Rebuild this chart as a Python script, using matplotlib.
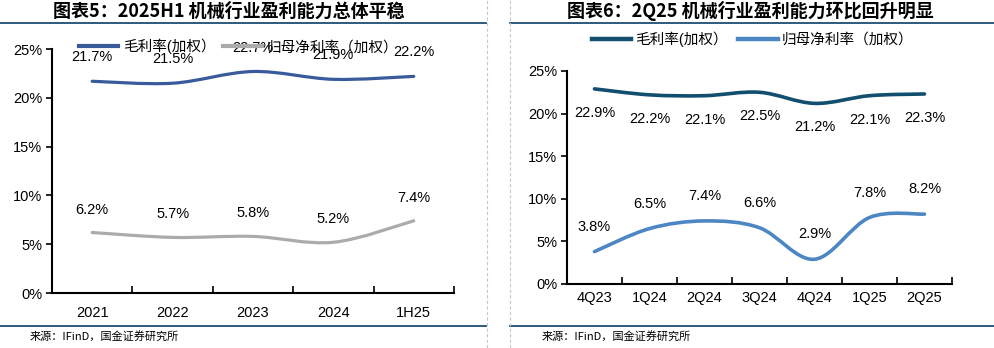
import matplotlib
matplotlib.use("Agg")
import matplotlib.pyplot as plt
from matplotlib.path import Path
from matplotlib.patches import PathPatch
from matplotlib.lines import Line2D

plt.rcParams['font.family'] = ['Liberation Sans', 'Noto Sans CJK SC']

# 图表5 数据
years = ["2021", "2022", "2023", "2024", "1H25"]
gross_y = [21.7, 21.5, 22.7, 21.9, 22.2]
net_y = [6.2, 5.7, 5.8, 5.2, 7.4]

# 图表6 数据
quarters = ["4Q23", "1Q24", "2Q24", "3Q24", "4Q24", "1Q25", "2Q25"]
gross_q = [22.9, 22.2, 22.1, 22.5, 21.2, 22.1, 22.3]
net_q = [3.8, 6.5, 7.4, 6.6, 2.9, 7.8, 8.2]

yticks = [0, 5, 10, 15, 20, 25]
title_l = "图表5：2025H1 机械行业盈利能力总体平稳"
title_r = "图表6：2Q25 机械行业盈利能力环比回升明显"
source = "来源：IFinD，国金证券研究所"
leg_names = ["毛利率(加权）", "归母净利率（加权）"]


def smooth(ax, ys, color, lw):
    # excel 风格平滑线：由数据点生成 bezier 路径
    pts = list(zip(range(len(ys)), ys))
    verts = [pts[0]]
    codes = [Path.MOVETO]
    for i in range(len(pts) - 1):
        p0 = pts[i - 1] if i > 0 else pts[i]
        p1 = pts[i]
        p2 = pts[i + 1]
        p3 = pts[i + 2] if i + 2 < len(pts) else pts[i + 1]
        c1 = (p1[0] + (p2[0] - p0[0]) / 6, p1[1] + (p2[1] - p0[1]) / 6)
        c2 = (p2[0] - (p3[0] - p1[0]) / 6, p2[1] - (p3[1] - p1[1]) / 6)
        verts += [c1, c2, p2]
        codes += [Path.CURVE4] * 3
    ax.add_patch(PathPatch(Path(verts, codes), fill=False, edgecolor=color,
                           lw=lw, capstyle='round', joinstyle='round'))


def setup(ax, cats, tick_pad):
    n = len(cats)
    ax.set_xlim(-0.5, n - 0.5)
    ax.set_ylim(0, 25)
    ax.set_yticks(yticks)
    ax.set_yticklabels([f"{t}%" for t in yticks], fontsize=10.5)
    ax.set_xticks(range(n))
    ax.set_xticklabels(cats, fontsize=10.5)
    ax.set_xticks([i + 0.5 for i in range(n)], minor=True)
    ax.tick_params(axis='x', which='major', length=0, pad=tick_pad)
    ax.tick_params(axis='x', which='minor', direction='in', length=5, width=1.2)
    ax.tick_params(axis='y', direction='out', length=4, width=1.2, pad=3)
    for s in ['top', 'right']:
        ax.spines[s].set_visible(False)
    for s in ['left', 'bottom']:
        ax.spines[s].set_linewidth(1.5)


fig = plt.figure(figsize=(9.94, 3.48), dpi=100)

# 左图
c_g1, c_n1 = "#3A5B9B", "#ABABAB"
ax1 = fig.add_axes([0.0523, 0.158, 0.4044, 0.701])
setup(ax1, years, 9)
smooth(ax1, gross_y, c_g1, 2.3)
smooth(ax1, net_y, c_n1, 2.3)
for i, v in enumerate(gross_y):
    ax1.annotate(f"{v}%", (i, v), xytext=(0, 24), textcoords='offset pixels',
                 ha='center', va='center', fontsize=10.5)
for i, v in enumerate(net_y):
    ax1.annotate(f"{v}%", (i, v), xytext=(0, 23), textcoords='offset pixels',
                 ha='center', va='center', fontsize=10.5)
h1 = [Line2D([], [], color=c_g1, lw=3), Line2D([], [], color=c_n1, lw=3)]
fig.legend(h1, leg_names, loc='center left', bbox_to_anchor=(0.072, 0.866),
           ncol=2, frameon=False, fontsize=10.5, handlelength=2.7,
           handletextpad=0.3, columnspacing=0.5, borderpad=0)

# 右图
c_g2, c_n2 = "#124E6E", "#4C87C4"
ax2 = fig.add_axes([0.5704, 0.184, 0.3873, 0.612])
setup(ax2, quarters, 5)
smooth(ax2, gross_q, c_g2, 2.6)
smooth(ax2, net_q, c_n2, 2.6)
for i, v in enumerate(gross_q):
    ax2.annotate(f"{v}%", (i, v), xytext=(0, -24), textcoords='offset pixels',
                 ha='center', va='center', fontsize=10.5)
for i, v in enumerate(net_q):
    ax2.annotate(f"{v}%", (i, v), xytext=(0, 25), textcoords='offset pixels',
                 ha='center', va='center', fontsize=10.5)
h2 = [Line2D([], [], color=c_g2, lw=3.2), Line2D([], [], color=c_n2, lw=3.2)]
fig.legend(h2, leg_names, loc='center left', bbox_to_anchor=(0.588, 0.888),
           ncol=2, frameon=False, fontsize=10.5, handlelength=2.7,
           handletextpad=0.3, columnspacing=0.7, borderpad=0)

# 标题、分隔线、来源
line_c = "#1F4E6E"
fig.text(0.23, 0.968, title_l, ha='center', va='center', fontsize=13,
         fontweight='bold', fontstyle='italic', family=['Noto Sans CJK SC'])
fig.text(0.755, 0.968, title_r, ha='center', va='center', fontsize=13,
         fontweight='bold', fontstyle='italic', family=['Noto Sans CJK SC'])
for x0, x1 in [(0.0, 0.489), (0.513, 1.0)]:
    fig.add_artist(Line2D([x0, x1], [0.934, 0.934], color=line_c, lw=1.3))
    fig.add_artist(Line2D([x0, x1], [0.063, 0.063], color=line_c, lw=1.3))
for x in [0.49, 0.513]:
    fig.add_artist(Line2D([x, x], [0.0, 1.0], color="#C8C8C8", lw=0.8,
                          ls=(0, (3, 2))))
fig.text(0.03, 0.035, source, ha='left', va='center', fontsize=8,
         family=['Noto Sans CJK SC'])
fig.text(0.545, 0.035, source, ha='left', va='center', fontsize=8,
         family=['Noto Sans CJK SC'])

fig.savefig("out.png", dpi=100)
